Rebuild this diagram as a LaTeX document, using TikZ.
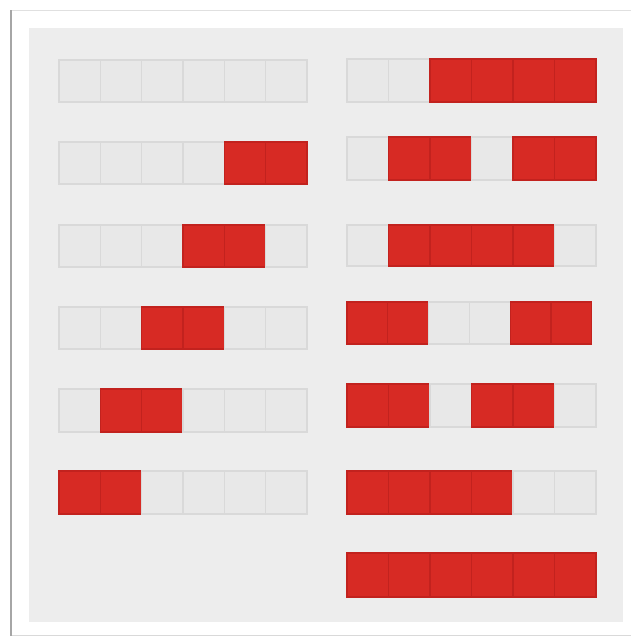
\documentclass[tikz,border=0pt]{standalone}
\begin{document}
\begin{tikzpicture}[x=1pt,y=-1pt,
  offcell/.style={fill=cellgray,draw=cellline,line width=1.2pt},
  oncell/.style={fill=cellred,draw=cellredline,line width=1.2pt}]
\definecolor{cellgray}{HTML}{E8E8E8}
\definecolor{cellline}{HTML}{D9D9D9}
\definecolor{cellred}{HTML}{D72A24}
\definecolor{cellredline}{HTML}{C2221E}
\definecolor{panel}{HTML}{EDEDED}
\useasboundingbox (0,0) rectangle (631,637);
\fill[white] (0,0) rectangle (631,637);
% outer frame
\fill[white] (11,10) rectangle (640,635);
\draw[draw=black!12,line width=1pt] (11,10) -- (640,10);
\draw[draw=black!15,line width=1pt] (11,635.5) -- (640,635.5);
\draw[draw=black!35,line width=1.6pt] (11,10) -- (11,636);
% inner panel
\fill[panel] (29,28) rectangle (623,622);
% rows: x0, y0, cell width, height, pattern (1 = red)
\foreach \xo/\yo/\w/\h/\pat in {
  59/60/41.33/42/{0,0,0,0,0,0},
  59/142/41.33/42/{0,0,0,0,1,1},
  59/225/41.33/42/{0,0,0,1,1,0},
  59/307/41.33/42/{0,0,1,1,0,0},
  59/389/41.33/43/{0,1,1,0,0,0},
  59/471/41.33/43/{1,1,0,0,0,0},
  347/59/41.5/43/{0,0,1,1,1,1},
  347/137/41.5/43/{0,1,1,0,1,1},
  347/225/41.5/41/{0,1,1,1,1,0},
  347/302/40.8/42/{1,1,0,0,1,1},
  347/384/41.5/43/{1,1,0,1,1,0},
  347/471/41.5/43/{1,1,1,1,0,0},
  347/553/41.5/44/{1,1,1,1,1,1}}
{
  \foreach \v [count=\i from 0] in \pat {
    \ifnum\v=1
      \draw[oncell] ({\xo+\i*\w},\yo) rectangle ++(\w,\h);
    \else
      \draw[offcell] ({\xo+\i*\w},\yo) rectangle ++(\w,\h);
    \fi
  }
}
\end{tikzpicture}
\end{document}
